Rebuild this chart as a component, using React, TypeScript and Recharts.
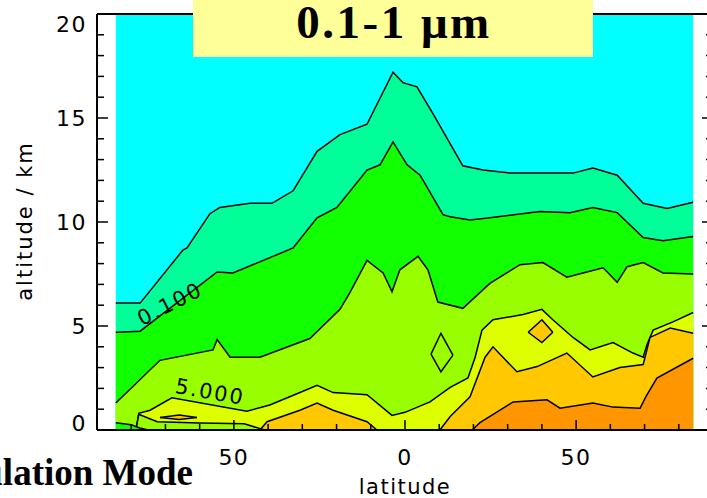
import React from "react"
import { ComposedChart, Area, XAxis, YAxis } from "recharts"

// axis ticks
const latTicks = [-90, -80, -70, -60, -50, -40, -30, -20, -10, 0, 10, 20, 30, 40, 50, 60, 70, 80, 90]
const altTicks = [0, 1, 2, 3, 4, 5, 6, 7, 8, 9, 10, 11, 12, 13, 14, 15, 16, 17, 18, 19, 20]

// extent of the coloured field
const fieldLat = [-84.5, 84.2]
const fieldTop = [20, 20]

// contour boundaries, top to bottom (latitude, altitude km)
const c1Lat = [-84.5, -77.4, -64.9, -63.7, -57.0, -54.1, -45.3, -38.9, -32.7, -25.7, -19.0, -11.1, -3.5, -0.6, 3.5, 8.2, 16.9, 22.8, 30.7, 49.1, 54.9, 62.0, 69.6, 76.6, 84.2]
const c1Alt = [6.1, 6.1, 8.65, 8.75, 10.4, 10.7, 10.9, 10.9, 11.5, 13.4, 14.2, 14.7, 17.2, 16.7, 16.5, 15.2, 12.7, 12.5, 12.35, 12.35, 12.6, 12.25, 10.9, 10.65, 10.95]

const c2Lat = [-84.5, -77.4, -54.9, -50.3, -32.7, -25.7, -19.9, -11.1, -7.3, -3.5, 0.6, 4.4, 11.1, 13.2, 19.0, 24.8, 39.4, 48.2, 54.9, 62.0, 69.6, 75.4, 84.2]
const c2Alt = [4.7, 4.75, 7.6, 7.55, 8.75, 10.2, 10.7, 12.5, 12.75, 13.85, 12.75, 12.25, 10.35, 10.25, 10.1, 10.2, 10.5, 10.45, 10.7, 10.45, 9.25, 9.1, 9.3]

const c3Lat = [-84.5, -71.6, -56.1, -54.9, -51.1, -42.4, -27.8, -19.0, -16.1, -11.1, -6.4, -3.8, -1.5, 3.8, 6.7, 9.6, 16.9, 24.8, 33.6, 40.3, 47.3, 52.0, 57.9, 62.0, 64.9, 69.6, 75.4, 84.2]
const c3Alt = [1.3, 3.35, 3.85, 4.35, 3.5, 3.5, 4.4, 5.8, 6.6, 8.15, 7.55, 6.65, 7.7, 8.35, 7.7, 6.15, 5.85, 7.05, 7.95, 8.05, 7.35, 7.55, 7.8, 7.1, 7.85, 8.05, 7.55, 7.5]

const c4Lat = [-84.5, -78.6, -77.8, -74.5, -68.1, -46.2, -39.5, -30.7, -25.7, -21.0, -11.1, -3.8, 0, 7.3, 13.2, 18.4, 20.5, 22.5, 25.7, 34.5, 40.0, 43.2, 49.1, 54.1, 60.8, 66.6, 69.6, 70.7, 72.5, 78.3, 84.2]
const c4Alt = [0, 0, 0.8, 0.95, 1.55, 0.9, 1.2, 1.8, 2.15, 1.8, 1.7, 0.7, 0.85, 1.35, 2.05, 2.5, 3.5, 4.8, 5.3, 5.55, 5.8, 5.3, 4.45, 3.85, 4.2, 3.7, 3.5, 4.1, 4.8, 5.2, 5.65]

const c5Lat = [-84.5, -42.4, -40.3, -30.7, -25.7, -21.0, -11.1, -8.2, 10.2, 13.2, 19.0, 23.4, 25.7, 32.7, 38.6, 47.3, 54.9, 62.8, 69.6, 71.6, 77.5, 84.2]
const c5Alt = [0, 0, 0.4, 0.95, 1.3, 0.95, 0.4, 0, 0, 0.65, 1.6, 3.5, 4.0, 2.8, 3.05, 3.7, 2.55, 3.0, 3.15, 4.45, 4.9, 4.65]

const c6Lat = [-84.5, 19.6, 21.9, 31.6, 41.5, 45.3, 54.9, 60.8, 68.7, 70.4, 73.6, 84.2]
const c6Alt = [0, 0, 0.35, 1.35, 1.45, 1.05, 1.3, 1.1, 1.05, 1.6, 2.5, 3.45]

// closed contours and small pockets (latitude, low km, high km)
const underLensLat = [-78.6, -77.8, -72.4, -60, -47, -41]
const underLensLow = [0, 0, 0, 0, 0, 0]
const underLensHigh = [0, 0.75, 0.4, 0.34, 0.3, 0]

const sliverLat = [-71.6, -66, -60.8]
const sliverLow = [0.6, 0.5, 0.6]
const sliverHigh = [0.6, 0.72, 0.6]

const cornerLat = [-84.5, -80, -77.5, -75]
const cornerAlt = [0.35, 0.25, 0.1, 0]

const diamondALat = [7.6, 10.5, 14.0]
const diamondALow = [3.65, 2.8, 3.6]
const diamondAHigh = [3.65, 4.65, 3.6]

const diamondBLat = [36.0, 40.0, 43.2]
const diamondBLow = [4.7, 4.2, 4.7]
const diamondBHigh = [4.7, 5.3, 4.7]

const CYAN = "#00ffff"
const LEVEL1 = "#00ff99"
const LEVEL2 = "#11ff00"
const LEVEL3 = "#99ff00"
const LEVEL4 = "#ddff00"
const LEVEL5 = "#ffc800"
const LEVEL6 = "#ff9600"

const rows = (lats: number[], alts: number[]) => lats.map((lat, i) => ({ lat, alt: alts[i] }))
const ranges = (lats: number[], lo: number[], hi: number[]) => lats.map((lat, i) => ({ lat, alt: [lo[i], hi[i]] }))

const filled = [
  { data: rows(c1Lat, c1Alt), fill: LEVEL1 },
  { data: rows(c2Lat, c2Alt), fill: LEVEL2 },
  { data: rows(c3Lat, c3Alt), fill: LEVEL3 },
  { data: rows(c4Lat, c4Alt), fill: LEVEL4 },
  { data: rows(c5Lat, c5Alt), fill: LEVEL5 },
  { data: rows(c6Lat, c6Alt), fill: LEVEL6 },
  { data: ranges(underLensLat, underLensLow, underLensHigh), fill: LEVEL3 },
  { data: ranges(sliverLat, sliverLow, sliverHigh), fill: LEVEL5 },
  { data: rows(cornerLat, cornerAlt), fill: LEVEL2 },
  { data: ranges(diamondALat, diamondALow, diamondAHigh), fill: LEVEL3 },
  { data: ranges(diamondBLat, diamondBLow, diamondBHigh), fill: LEVEL5 },
]

const tickFont = { fontFamily: "DejaVu Sans", fontSize: 22, letterSpacing: 1.5, fill: "#000" }

function BottomTick({ x, y, payload }: any) {
  const v = payload.value
  const major = v % 50 === 0
  return (
    <g>
      <line x1={x} y1={y} x2={x} y2={y - (major ? 10 : 6)} stroke="#000" strokeWidth={1.5} />
      {major && Math.abs(v) < 90 && (
        <text x={x} y={y + 35} textAnchor="middle" {...tickFont}>
          {Math.abs(v)}
        </text>
      )}
    </g>
  )
}

function TopTick({ x, y, payload }: any) {
  const major = payload.value % 50 === 0
  return <line x1={x} y1={y} x2={x} y2={y + (major ? 10 : 6)} stroke="#000" strokeWidth={1.5} />
}

function LeftTick({ x, y, payload }: any) {
  const v = payload.value
  const major = v % 5 === 0
  const dy = v === 0 ? 1 : v === 20 ? 18 : 8
  return (
    <g>
      <line x1={x} y1={y} x2={x + (major ? 11 : 7)} y2={y} stroke="#000" strokeWidth={1.5} />
      {major && (
        <text x={x - 10} y={y + dy} textAnchor="end" {...tickFont}>
          {v}
        </text>
      )}
    </g>
  )
}

function RightTick({ x, y, payload }: any) {
  const major = payload.value % 5 === 0
  return <line x1={x} y1={y} x2={x - (major ? 11 : 7)} y2={y} stroke="#000" strokeWidth={1.5} />
}

const axisLine = { stroke: "#000", strokeWidth: 2 }

export default function App() {
  return (
    <div style={{ position: "fixed", left: 0, top: 0, width: 707, height: 498, overflow: "hidden", background: "#fff" }}>
      <ComposedChart width={760} height={498} margin={{ top: 13, right: 46, bottom: 67, left: 96 }}>
        <XAxis
          dataKey="lat"
          type="number"
          domain={[-90, 90]}
          ticks={latTicks}
          interval={0}
          height={1}
          tickSize={0}
          tickMargin={0}
          tickLine={false}
          axisLine={axisLine}
          tick={BottomTick}
          allowDataOverflow
        />
        <XAxis
          xAxisId="top"
          orientation="top"
          type="number"
          domain={[-90, 90]}
          ticks={latTicks}
          interval={0}
          height={1}
          tickSize={0}
          tickMargin={0}
          tickLine={false}
          axisLine={axisLine}
          tick={TopTick}
          allowDataOverflow
        />
        <YAxis
          type="number"
          domain={[0, 20]}
          ticks={altTicks}
          interval={0}
          width={1}
          tickSize={0}
          tickMargin={0}
          tickLine={false}
          axisLine={axisLine}
          tick={LeftTick}
          allowDataOverflow
        />
        <YAxis
          yAxisId="right"
          orientation="right"
          type="number"
          domain={[0, 20]}
          ticks={altTicks}
          interval={0}
          width={1}
          tickSize={0}
          tickMargin={0}
          tickLine={false}
          axisLine={axisLine}
          tick={RightTick}
          allowDataOverflow
        />
        <Area
          data={rows(fieldLat, fieldTop)}
          dataKey="alt"
          type="linear"
          fill={CYAN}
          fillOpacity={1}
          stroke="none"
          dot={false}
          activeDot={false}
          isAnimationActive={false}
        />
        {filled.map((b, i) => (
          <Area
            key={i}
            data={b.data}
            dataKey="alt"
            type="linear"
            fill={b.fill}
            fillOpacity={1}
            stroke="#000"
            strokeWidth={1.5}
            dot={false}
            activeDot={false}
            isAnimationActive={false}
          />
        ))}
      </ComposedChart>

      <svg width={707} height={498} style={{ position: "absolute", left: 0, top: 0, pointerEvents: "none" }}>
        <rect x={193} y={0} width={400} height={57} fill="#ffff99" />
        <text x={394} y={38} textAnchor="middle" fontFamily="Liberation Serif" fontWeight="bold" fontSize={47} letterSpacing={2.5}>
          0.1-1 μm
        </text>
        <text x={193} y={485} textAnchor="end" fontFamily="Liberation Serif" fontWeight="bold" fontSize={37}>
          Accumulation Mode
        </text>
        <text x={405} y={494} textAnchor="middle" fontFamily="DejaVu Sans" fontSize={21} letterSpacing={1.5}>
          latitude
        </text>
        <text
          x={32}
          y={221}
          textAnchor="middle"
          fontFamily="DejaVu Sans"
          fontSize={21}
          letterSpacing={2}
          transform="rotate(-90 32 221)"
        >
          altitude / km
        </text>
        <text x={0} y={7} textAnchor="middle" fontFamily="DejaVu Sans" fontSize={21} letterSpacing={2} transform="translate(170 304) rotate(-27)">
          0.100
        </text>
        <text x={0} y={7} textAnchor="middle" fontFamily="DejaVu Sans" fontSize={21} letterSpacing={2} transform="translate(210 392) rotate(10)">
          5.000
        </text>
      </svg>
    </div>
  )
}
